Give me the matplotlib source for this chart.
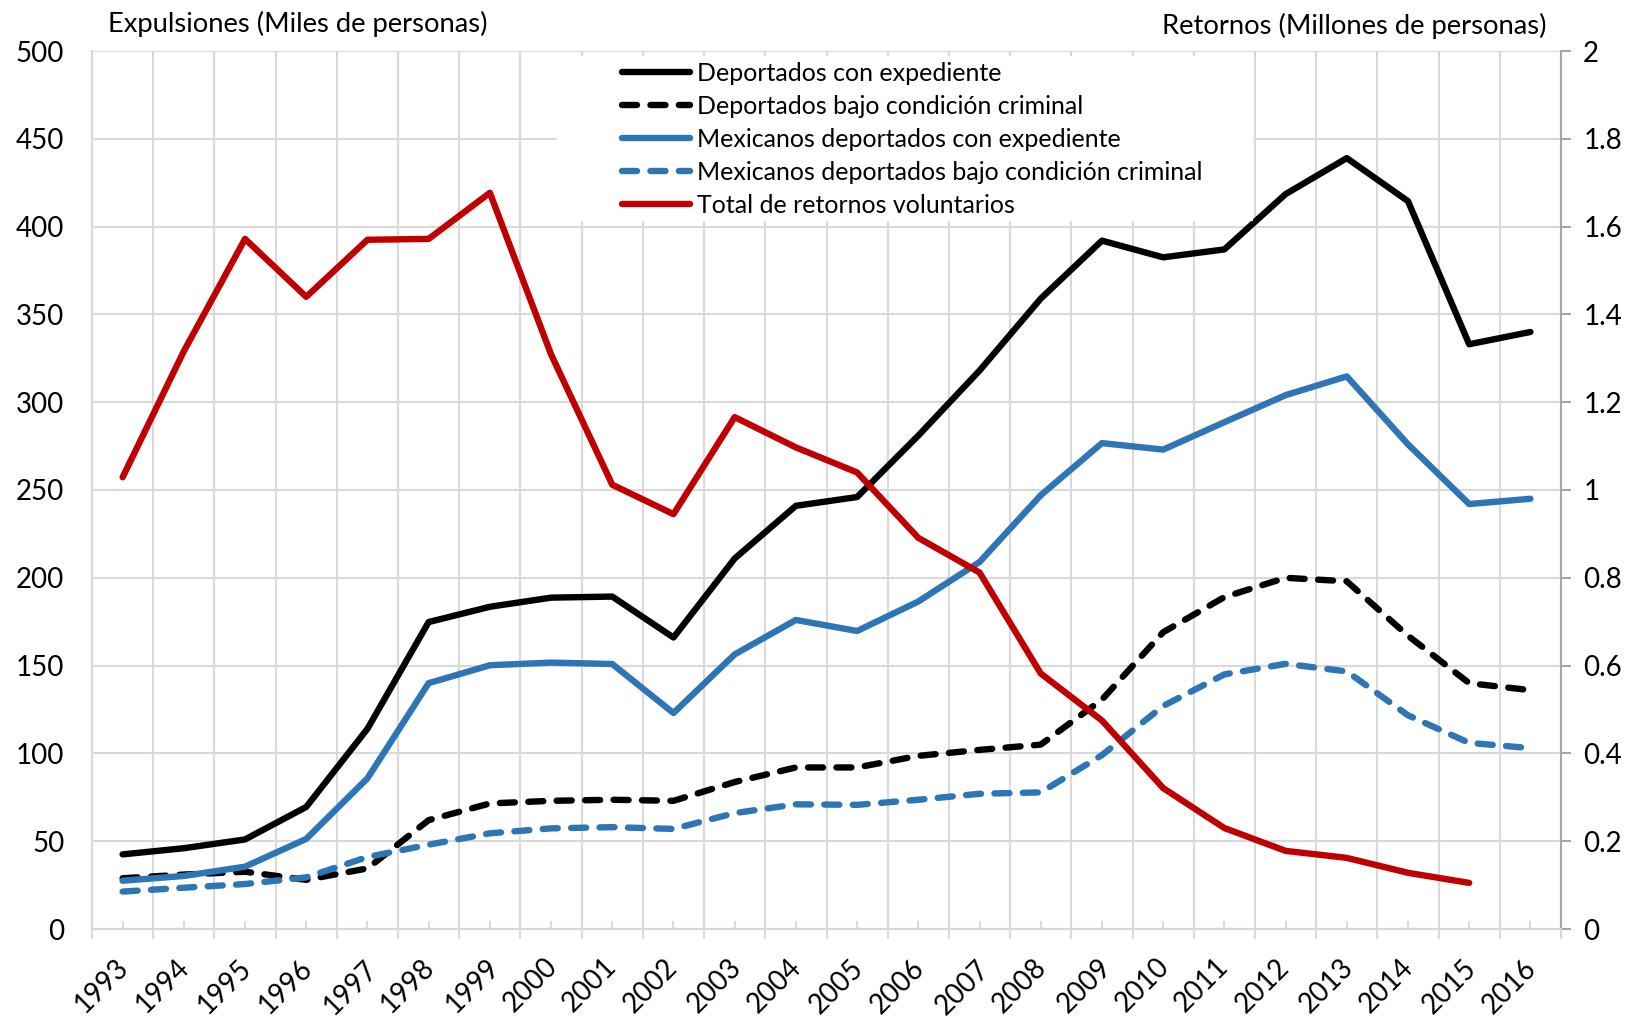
import numpy as np
import matplotlib
matplotlib.use("Agg")
import matplotlib.pyplot as plt
from matplotlib.patches import Rectangle
from matplotlib.transforms import ScaledTranslation, Affine2D, blended_transform_factory
from matplotlib.textpath import TextPath
from matplotlib.font_manager import FontProperties

plt.rcParams["font.family"] = ["Lato", "DejaVu Sans"]

years = list(range(1993, 2017))

# miles de personas (eje izquierdo)
dep_expediente = [42.5, 46, 51, 69.5, 114, 174.8, 183.5, 188.7, 189.3, 166, 211, 241, 246,
                  281, 318, 359, 392, 382.5, 387, 418.5, 439, 414.5, 333, 340]
dep_criminal = [28.9, 31, 32.6, 28, 34.5, 62, 71.5, 73, 73.6, 73, 83.7, 92, 92,
                98.6, 102, 105, 130.6, 169, 189, 200, 198, 167, 140, 136]
mex_expediente = [27.5, 30.2, 35.5, 51.3, 85.8, 140, 150.2, 151.7, 150.9, 123, 156.4, 176, 169.7,
                  186.5, 209, 247, 276.7, 273, 288.6, 304, 314.7, 276, 242, 245]
mex_criminal = [21.3, 23.5, 25.6, 29.4, 41, 48, 54.5, 57.3, 58, 57, 66, 71, 70.7,
                73.6, 77, 77.8, 99, 127, 145, 151, 146.7, 121.7, 106, 103]
# millones de personas (eje derecho)
retornos = [1.029, 1.316, 1.572, 1.44, 1.57, 1.572, 1.677, 1.309, 1.012, 0.945, 1.166, 1.097,
            1.040, 0.891, 0.812, 0.582, 0.475, 0.321, 0.230, 0.178, 0.162, 0.128, 0.105]

labels = ["Deportados con expediente",
          "Deportados bajo condición criminal",
          "Mexicanos deportados con expediente",
          "Mexicanos deportados bajo condición criminal",
          "Total de retornos voluntarios"]

BLUE = "#2E75B6"
RED = "#C00000"
GRID = "#D9D9D9"
LW = 4.6
DASH = (2.35, 2.1)
DPI = 100

fig = plt.figure(figsize=(16.35, 10.17), dpi=DPI)
L, R, B, T = 92 / 1635, 1561 / 1635, 1 - 929 / 1017, 1 - 51 / 1017
ax = fig.add_axes([L, B, R - L, T - B])
ax2 = ax.twinx()

x = np.arange(len(years))
style = dict(lw=LW, solid_capstyle="round", solid_joinstyle="round",
             dash_capstyle="round", dash_joinstyle="round")
h1, = ax.plot(x, dep_expediente, color="black", **style)
h2, = ax.plot(x, dep_criminal, color="black", dashes=DASH, **style)
h3, = ax.plot(x, mex_expediente, color=BLUE, **style)
h4, = ax.plot(x, mex_criminal, color=BLUE, dashes=DASH, **style)
h5, = ax2.plot(x[:len(retornos)], retornos, color=RED, zorder=3, **style)

ax.set_xlim(-0.5, len(years) - 0.5)
ax.set_ylim(0, 500)
ax2.set_ylim(0, 2)

ax.set_yticks(np.arange(0, 501, 50))
ax.set_yticklabels([str(v) for v in range(0, 501, 50)])
rt = np.round(np.arange(0, 2.01, 0.2), 1)
ax2.set_yticks(rt)
ax2.set_yticklabels(["0" if v == 0 else ("%g" % v) for v in rt])

ax.set_xticks(x)
ax.set_xticks(np.arange(-0.5, len(years)), minor=True)

ax.grid(True, axis="y", color=GRID, lw=1.5)
ax.grid(True, axis="x", which="minor", color=GRID, lw=1.5)
ax.set_axisbelow(True)

ax.tick_params(axis="x", which="major", direction="in", length=6, width=1.5,
               color=GRID, labelbottom=False)
ax.tick_params(axis="x", which="minor", direction="out", length=7, width=1.5, color=GRID)
ax.tick_params(axis="y", length=0, labelsize=20, pad=20)
ax2.tick_params(axis="y", direction="out", length=7, width=1.5, color="#A6A6A6",
                labelsize=20, pad=9)

# year labels at 45 degrees, placed by their ink box (top-right corner just
# right of the category centre, ~29 px under the axis)
fp = FontProperties(family="Lato")
rot = Affine2D().rotate_deg(45)
ext = TextPath((0, 0), "1993", size=100, prop=fp).transformed(rot).get_extents()
size_px = 100 * 50.5 / ext.width
xtrans = blended_transform_factory(ax.transData, ax.transAxes)
for i, yr in enumerate(years):
    e = TextPath((0, 0), str(yr), size=size_px, prop=fp).transformed(rot).get_extents()
    dx = 4.3 - e.x1
    dy = -29 - e.y1
    tr = xtrans + ScaledTranslation(dx / DPI, dy / DPI, fig.dpi_scale_trans)
    ax.text(x[i], 0, str(yr), rotation=45, rotation_mode="anchor", ha="left",
            va="baseline", fontsize=size_px * 72 / DPI, transform=tr, clip_on=False)

for a in (ax, ax2):
    a.spines["top"].set_visible(False)
    a.spines["left"].set_color(GRID)
    a.spines["bottom"].set_color(GRID)
    a.spines["left"].set_linewidth(1.5)
    a.spines["bottom"].set_linewidth(1.5)
    a.spines["right"].set_visible(False)
ax2.spines["right"].set_visible(True)
ax2.spines["right"].set_color("#A6A6A6")
ax2.spines["right"].set_linewidth(1.5)

# fondo blanco de la leyenda
ax2.add_patch(Rectangle((557 / 1635, 1 - 221 / 1017), (1253 - 557) / 1635, (221 - 56) / 1017,
                        transform=fig.transFigure, facecolor="white", edgecolor="none", zorder=1))

leg = ax2.legend([h1, h2, h3, h4, h5], labels, loc="upper left",
                 bbox_to_anchor=(622 / 1635, 1 - 62 / 1017), bbox_transform=fig.transFigure,
                 frameon=False, fontsize=18, handlelength=2.7, handletextpad=0.3,
                 labelspacing=0.4, borderpad=0, borderaxespad=0)
leg.set_zorder(5)

fig.text(108 / 1635, 1 - 24 / 1017, "Expulsiones (Miles de personas)", fontsize=19.7,
         ha="left", va="center")
fig.text(1546 / 1635, 1 - 26 / 1017, "Retornos (Millones de personas)", fontsize=19.7,
         ha="right", va="center")

fig.savefig("out.png", dpi=DPI)
